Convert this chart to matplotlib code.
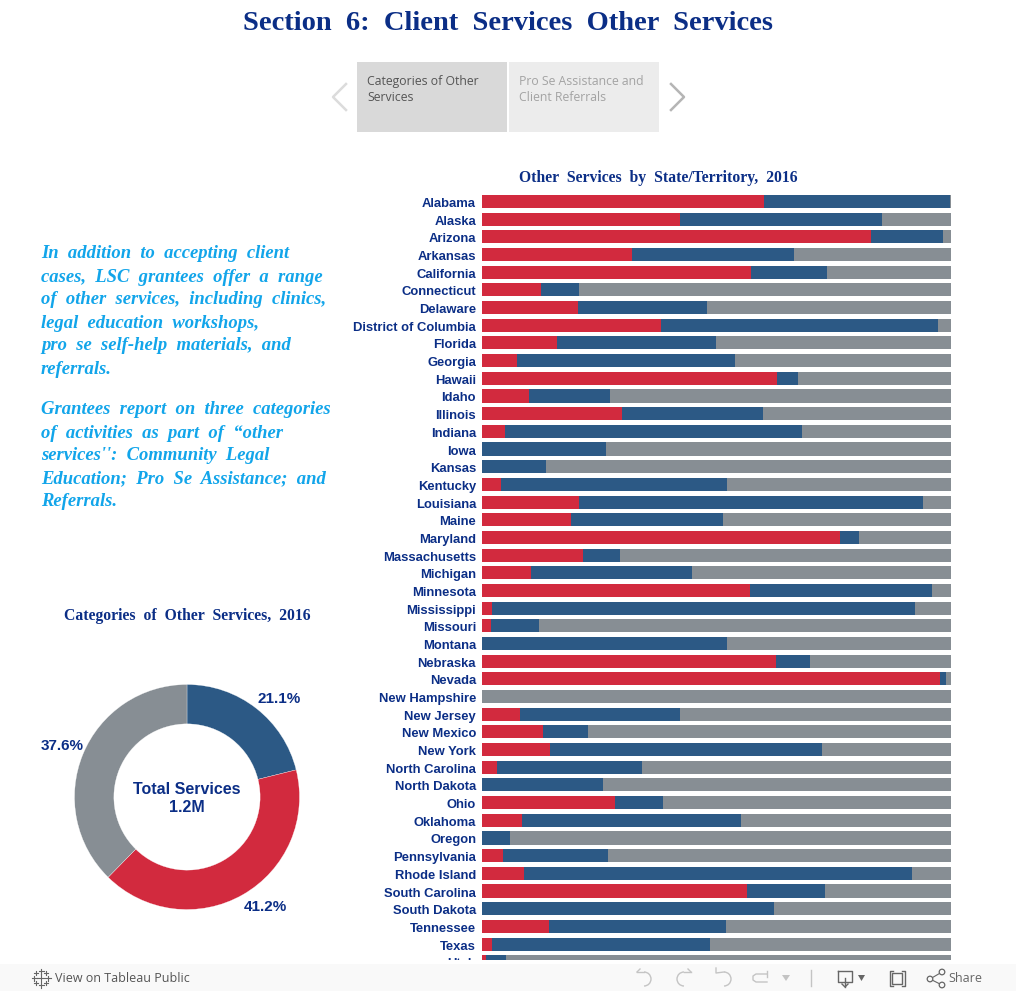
"""Section 6 dashboard: stacked state bars, donut and Tableau page furniture."""
import matplotlib

matplotlib.use("Agg")
import matplotlib.pyplot as plt  # noqa: E402
from matplotlib.patches import Arc, Circle, Rectangle  # noqa: E402
from matplotlib.transforms import ScaledTranslation  # noqa: E402

W, H = 1016, 991
RED = "#d22a3e"
BLUE = "#2c5985"
GRAY = "#878e94"
NAVY = "#0b2e86"
CYAN = "#12a5ea"
SANS = "Liberation Sans"
SERIF = "Liberation Serif"

states = [
    "Alabama", "Alaska", "Arizona", "Arkansas", "California", "Connecticut", "Delaware",
    "District of Columbia", "Florida", "Georgia", "Hawaii", "Idaho", "Illinois", "Indiana",
    "Iowa", "Kansas", "Kentucky", "Louisiana", "Maine", "Maryland", "Massachusetts",
    "Michigan", "Minnesota", "Mississippi", "Missouri", "Montana", "Nebraska", "Nevada",
    "New Hampshire", "New Jersey", "New Mexico", "New York", "North Carolina", "North Dakota",
    "Ohio", "Oklahoma", "Oregon", "Pennsylvania", "Rhode Island", "South Carolina",
    "South Dakota", "Tennessee", "Texas", "Utah",
]
red_pct = [
    60.1, 42.3, 83.0, 32.0, 57.4, 12.6, 20.5, 38.2, 16.0, 7.5, 63.0, 10.0, 29.9, 5.0,
    0, 0, 4.0, 20.7, 19.0, 76.4, 21.6, 10.5, 57.2, 2.2, 1.9, 0, 62.7, 97.7,
    0, 8.2, 12.9, 14.5, 3.1, 0, 28.3, 8.5, 0, 4.5, 9.0, 56.5, 0, 14.3, 2.2, 0.9,
]
blue_pct = [
    39.7, 43.0, 15.3, 34.5, 16.2, 8.1, 27.5, 59.0, 33.9, 46.5, 4.4, 17.3, 30.0, 63.3,
    26.5, 13.7, 48.3, 73.3, 32.4, 4.0, 7.8, 34.3, 38.8, 90.2, 10.3, 52.3, 7.2, 1.3,
    0, 34.1, 9.7, 58.0, 31.0, 25.8, 10.3, 46.7, 6.0, 22.4, 82.7, 16.7, 62.3, 37.7, 46.4, 4.2,
]
gray_pct = [
    0.2, 14.7, 1.7, 33.5, 26.4, 79.3, 52.0, 2.8, 50.1, 46.0, 32.6, 72.7, 40.1, 31.7,
    73.5, 86.3, 47.7, 6.0, 48.6, 19.6, 70.6, 55.2, 4.0, 7.6, 87.8, 47.7, 30.1, 1.0,
    100, 57.7, 77.4, 27.5, 65.9, 74.2, 61.4, 44.8, 94.0, 73.1, 8.3, 26.8, 37.7, 48.0, 51.4, 94.9,
]
donut_pct = [21.1, 41.2, 37.6]
donut_labels = ["21.1%", "41.2%", "37.6%"]

intro_lines = [
    "In  addition  to  accepting  client",
    "cases,  LSC  grantees  offer  a  range",
    "of  other  services,  including  clinics,",
    "legal  education  workshops,",
    "pro  se  self-help  materials,  and",
    "referrals.",
]
detail_lines = [
    "Grantees  report  on  three  categories",
    "of  activities  as  part  of  \u201cother",
    "services'':  Community  Legal",
    "Education;  Pro  Se  Assistance;  and",
    "Referrals.",
]


def px_axes(fig, left, top, right, bottom, **kw):
    """Axes placed by pixel edges, measured from the top left of the figure."""
    return fig.add_axes([left / W, 1 - bottom / H, (right - left) / W, (bottom - top) / H], **kw)


fig = plt.figure(figsize=(W / 100, H / 100), dpi=100, facecolor="white")

# stacked bars
ax = px_axes(fig, 482, 190, 951, 963)
rows = list(range(len(states)))
left_blue = red_pct
left_gray = [r + b for r, b in zip(red_pct, blue_pct)]
ax.barh(rows, red_pct, height=0.74, color=RED)
ax.barh(rows, blue_pct, left=left_blue, height=0.74, color=BLUE)
ax.barh(rows, gray_pct, left=left_gray, height=0.74, color=GRAY)
ax.set_xlim(0, 100)
ax.set_ylim(43.07, -0.65)
ax.set_yticks(rows, states)
ax.tick_params(axis="y", length=0, pad=4.3)
ax.tick_params(axis="x", bottom=False, labelbottom=False)
# labels sit a pixel below the bar centres
nudge = ScaledTranslation(0, -0.01, fig.dpi_scale_trans)
for label in ax.get_yticklabels():
    label.set(family=SANS, weight="bold", size=9.4, color=NAVY)
    label.set_transform(label.get_transform() + nudge)
for spine in ax.spines.values():
    spine.set_visible(False)

# donut
pie_ax = px_axes(fig, 74.5, 684.5, 299.5, 909.5)
pie_ax.pie(
    donut_pct, colors=[BLUE, RED, GRAY], startangle=90, counterclock=False, radius=1,
    wedgeprops={"width": 0.35, "edgecolor": "white", "linewidth": 0.2},
)
pie_ax.set_xlim(-1, 1)
pie_ax.set_ylim(-1, 1)

# page furniture in pixel coordinates, on top so the footer cuts off the last row
page = px_axes(fig, 0, 0, W, H, zorder=5)
page.set_xlim(0, W)
page.set_ylim(H, 0)
page.axis("off")
page.patch.set_alpha(0)

page.text(508, 23, "Section  6:  Client  Services  Other  Services", ha="center", va="center",
          family=SERIF, weight="bold", size=20.5, color=NAVY)
page.text(658, 178, "Other  Services  by  State/Territory,  2016", ha="center", va="center",
          family=SERIF, weight="bold", size=11.3, color=NAVY)
page.text(187, 616, "Categories  of  Other  Services,  2016", ha="center", va="center",
          family=SERIF, weight="bold", size=11.3, color=NAVY)

for i, line in enumerate(intro_lines):
    page.text(41, 254 + 23 * i, line, ha="left", va="center", family=SERIF, weight="bold",
              style="italic", size=13.45, color=CYAN)
for i, line in enumerate(detail_lines):
    page.text(41, 410 + 23 * i, line, ha="left", va="center", family=SERIF, weight="bold",
              style="italic", size=13.45, color=CYAN)

# donut text
for (x, y), label in zip([(279, 699), (265, 907), (62, 746)], donut_labels):
    page.text(x, y, label, ha="center", va="center", family=SANS, weight="bold", size=11, color=NAVY)
page.text(187, 789, "Total Services", ha="center", va="center", family=SANS, weight="bold", size=11.5, color=NAVY)
page.text(187, 807, "1.2M", ha="center", va="center", family=SANS, weight="bold", size=11.5, color=NAVY)

# carousel tabs
page.add_patch(Rectangle((357, 62), 150, 70, facecolor="#d9d9d9", edgecolor="none"))
page.add_patch(Rectangle((509, 62), 150, 70, facecolor="#ececec", edgecolor="none"))
page.text(367, 89.5, "Categories of Other\nServices", ha="left", va="center", family="Open Sans",
          size=8.8, color="#555555", linespacing=1.38)
page.text(519, 89.5, "Pro Se Assistance and\nClient Referrals", ha="left", va="center", family="Open Sans",
          size=8.8, color="#a3a3a3", linespacing=1.38)
page.plot([346, 333, 346], [84, 97, 110], color="#dcdcdc", lw=1.8)
page.plot([671, 684, 671], [84, 97, 110], color="#b5b5b5", lw=1.8)

# white gap above the footer, the viz is cut off here
page.add_patch(Rectangle((0, 960), W, 4, facecolor="white", edgecolor="none"))

# footer bar
page.add_patch(Rectangle((0, 964), W, 27, facecolor="#f9f9f9", edgecolor="none"))
page.text(55, 978, "View on Tableau Public", ha="left", va="center", family="Open Sans", size=9, color="#555555")
page.text(948, 978, "Share", ha="left", va="center", family="Open Sans", size=9, color="#666666")

# tableau logo
for cx, cy, half in [(41, 978, 4), (41, 971, 2.5), (41, 985, 2.5), (34, 978, 2.5), (48, 978, 2.5),
                     (36, 973, 2), (46, 973, 2), (36, 983, 2), (46, 983, 2)]:
    page.plot([cx - half, cx + half], [cy, cy], color="#666666", lw=0.8)
    page.plot([cx, cx], [cy - half, cy + half], color="#666666", lw=0.8)

# toolbar icons
light = "#c4c4c4"
dark = "#666666"
page.add_patch(Arc((644, 979), 14, 14, theta1=-90, theta2=90, color=light, lw=1))
page.plot([637, 644], [972, 972], color=light, lw=1)
page.plot([637, 640], [972, 969], color=light, lw=1)
page.add_patch(Arc((684, 979), 14, 14, theta1=90, theta2=270, color=light, lw=1))
page.plot([684, 691], [972, 972], color=light, lw=1)
page.plot([691, 688], [972, 969], color=light, lw=1)
page.add_patch(Arc((724, 979), 14, 14, theta1=-90, theta2=90, color=light, lw=1))
page.plot([716, 716, 724], [968, 973, 972], color=light, lw=1)
page.plot([767, 756, 753, 753, 756, 767], [974, 974, 976, 980, 982, 982], color=light, lw=1)
page.plot([767, 767], [971, 977], color=light, lw=1)
page.fill([782, 790, 786], [975, 975, 981], color=light, lw=0)
page.plot([811, 811], [970, 986], color=light, lw=1)

page.plot([838, 838, 852, 852, 838], [971, 982, 982, 971, 971], color=dark, lw=1)
page.plot([845, 845], [978, 987], color=dark, lw=1)
page.plot([842, 845, 848], [984, 987, 984], color=dark, lw=1)
page.fill([858, 865, 861.5], [975, 975, 981], color=dark, lw=0)
page.add_patch(Rectangle((892, 973), 10, 11, fill=False, edgecolor=dark, lw=1))
for x0, dx in [(889.5, 1), (905, -1)]:
    page.plot([x0 + 3 * dx, x0, x0, x0 + 3 * dx], [971, 971, 986, 986], color=dark, lw=1)

page.plot([942, 930, 942], [972, 979, 985], color=dark, lw=0.8)
for cx, cy in [(942, 972), (930, 979), (942, 985)]:
    page.add_patch(Circle((cx, cy), 2.8, facecolor="#f9f9f9", edgecolor=dark, lw=0.9, zorder=6))

fig.savefig("out.png", dpi=100, facecolor="white")
plt.close(fig)
